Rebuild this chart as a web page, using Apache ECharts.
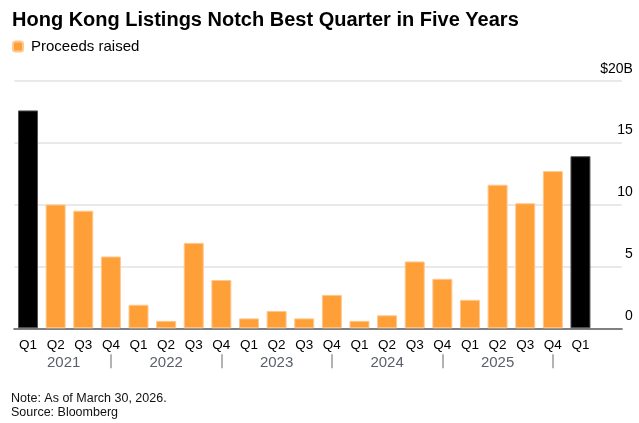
<!DOCTYPE html>
<html><head><meta charset="utf-8">
<script src="https://cdn.jsdelivr.net/npm/echarts@6/dist/echarts.min.js"></script>
<style>html,body{margin:0;padding:0;background:#fff}#c{width:639px;height:423px}</style>
</head><body><div id="c"></div>
<script>
const quarters = ['Q1','Q2','Q3','Q4','Q1','Q2','Q3','Q4','Q1','Q2','Q3','Q4','Q1','Q2','Q3','Q4','Q1','Q2','Q3','Q4','Q1'];
const years = ['2021','2022','2023','2024','2025'];
const proceeds = [17.6, 10.0, 9.5, 5.8, 1.9, 0.6, 6.9, 3.9, 0.8, 1.4, 0.8, 2.7, 0.6, 1.05, 5.4, 4.0, 2.3, 11.6, 10.1, 12.7, 13.9];
const highlighted = [0, 20];
const yTicks = [0, 5, 10, 15, 20];

const FONT = '"Liberation Sans", Arial, sans-serif';
const cats = quarters.concat(['']);
const yearCats = cats.map((q, i) => i);

const chart = echarts.init(document.getElementById('c'), null, {renderer: 'canvas'});
const data = proceeds.map((v, i) => highlighted.includes(i)
  ? {value: v, itemStyle: {color: '#000', borderColor: '#555', borderWidth: 1}}
  : v);

chart.setOption({
  animation: false,
  textStyle: {fontFamily: FONT},
  title: [
    {text: 'Hong Kong Listings Notch Best Quarter in Five Years', left: 7, top: 5,
     textStyle: {fontFamily: FONT, fontSize: 20, fontWeight: 'bold', color: '#000'}},
    {text: 'Note: As of March 30, 2026.\nSource: Bloomberg', left: 6, top: 387,
     textStyle: {fontFamily: FONT, fontSize: 12.5, fontWeight: 'normal', color: '#111', lineHeight: 14}}
  ],
  legend: {left: 7, top: 34, icon: 'roundRect', itemWidth: 10, itemHeight: 10, itemGap: 6,
    textStyle: {fontFamily: FONT, fontSize: 15, color: '#000', padding: [0, 0, 0, 3]}, data: ['Proceeds raised']},
  grid: {left: 14.2, right: 17.1, top: 80.7, bottom: 94.7, containLabel: false},
  xAxis: [
    {type: 'category', data: cats, boundaryGap: true,
     axisLine: {lineStyle: {color: '#808080', width: 2}},
     axisTick: {alignWithLabel: true, length: 5, interval: (i) => i < quarters.length, lineStyle: {color: '#222', width: 1.2}},
     axisLabel: {interval: 0, margin: 10, fontSize: 13.5, color: '#000', fontFamily: FONT}},
    {type: 'category', data: yearCats, position: 'bottom', offset: 26, boundaryGap: true,
     axisLine: {show: false},
     axisTick: {show: true, alignWithLabel: true, length: 14, interval: (i) => i % 4 === 3 && i < quarters.length,
       lineStyle: {color: '#9a9a9a', width: 1.5}},
     axisLabel: {interval: (i) => i % 4 === 1 && i < 20, margin: 1, fontSize: 15, color: '#5a5f6a', fontFamily: FONT,
       formatter: (v) => { const idx = Math.floor(Number(v) / 4); return idx === 0 ? '{f|' + years[idx] + '}' : years[idx]; },
       rich: {f: {padding: [0, 0, 0, 16], fontSize: 15, color: '#5a5f6a', fontFamily: FONT}}}}
  ],
  yAxis: {type: 'value', position: 'right', min: yTicks[0], max: yTicks[yTicks.length - 1], interval: 5,
    axisLine: {show: false}, axisTick: {show: false},
    splitLine: {lineStyle: {color: '#e2e2e2', width: 1.6}},
    axisLabel: {margin: 11, align: 'right', verticalAlign: 'bottom', padding: [0, 0, 5, 0], fontSize: 14, color: '#000', fontFamily: FONT,
      formatter: (v) => v === 20 ? '$20B' : String(v)}},
  series: [{name: 'Proceeds raised', type: 'bar', xAxisIndex: 0, data: data, barWidth: 20,
    itemStyle: {color: '#FF9F38', borderColor: '#FFC88F', borderWidth: 1}}]
});
</script></body></html>
